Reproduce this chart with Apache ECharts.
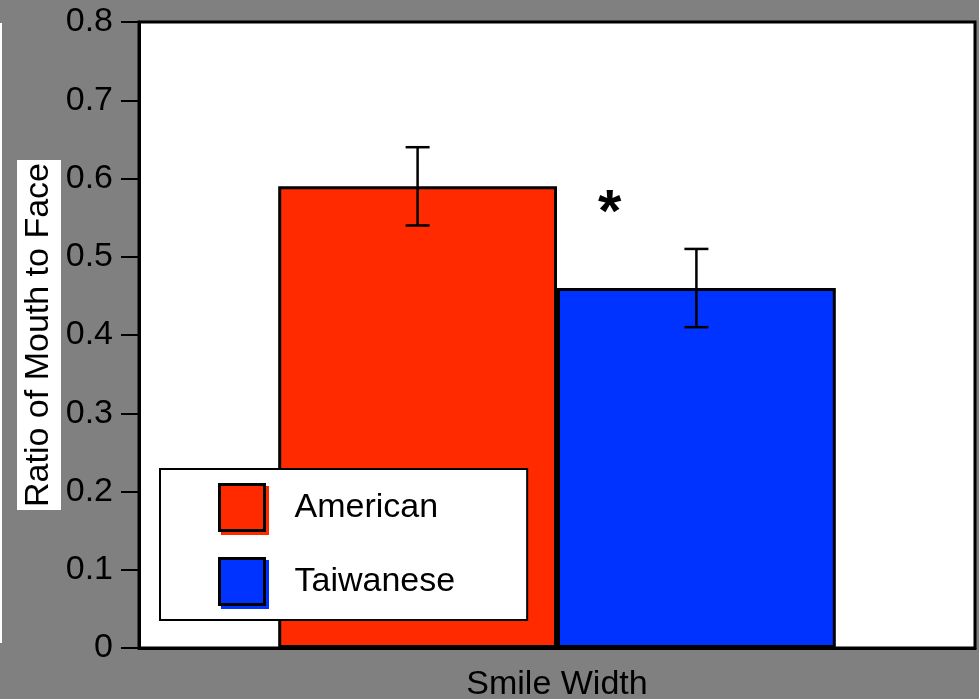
<!DOCTYPE html>
<html>
<head>
<meta charset="utf-8">
<script src="https://cdn.jsdelivr.net/npm/echarts@6/dist/echarts.min.js"></script>
<style>
  html, body { margin: 0; padding: 0; background: #808080; }
  #chart { width: 979px; height: 699px; }
</style>
</head>
<body>
<div id="chart"></div>
<script>
// Mouth-to-face width ratio by group, with error bars
const categories = ['Smile Width'];
const groups = ['American', 'Taiwanese'];
const means = [0.59, 0.46];
const errLow = [0.54, 0.41];
const errHigh = [0.64, 0.51];
const colors = ['#ff2a00', '#0033ff'];
const yTicks = { min: 0, max: 0.8, interval: 0.1 };

const FONT = 'Liberation Sans, Arial, sans-serif';
const FS = 34;
const BAR_FRACTION = 0.3335; // each bar's share of the category band

const chart = echarts.init(document.getElementById('chart'), null, { renderer: 'canvas' });

const barSeries = groups.map((g, i) => ({
  name: g,
  type: 'bar',
  data: [means[i]],
  barWidth: (BAR_FRACTION * 100) + '%',
  barGap: '0%',
  itemStyle: { color: colors[i], borderColor: '#000', borderWidth: 3 },
  z: 2
}));

// error bars: one whisker per group, centred on its bar
const errData = groups.map((g, i) => [0, errLow[i], errHigh[i], i]);
const errSeries = {
  type: 'custom',
  name: 'error',
  data: errData,
  z: 5,
  renderItem: function (params, api) {
    const band = api.size([1, 0])[0];
    const barW = band * BAR_FRACTION;
    const idx = api.value(3);
    const offset = (idx === 0 ? -0.5 : 0.5) * barW;
    const lo = api.coord([api.value(0), api.value(1)]);
    const hi = api.coord([api.value(0), api.value(2)]);
    const x = lo[0] + offset;
    const cap = 12;
    const style = { stroke: '#000', lineWidth: 2.5, fill: null };
    return {
      type: 'group',
      children: [
        { type: 'line', shape: { x1: x, y1: hi[1], x2: x, y2: lo[1] }, style: style },
        { type: 'line', shape: { x1: x - cap, y1: hi[1], x2: x + cap, y2: hi[1] }, style: style },
        { type: 'line', shape: { x1: x - cap, y1: lo[1], x2: x + cap, y2: lo[1] }, style: style }
      ]
    };
  },
  silent: true
};

chart.setOption({
  backgroundColor: '#808080',
  animation: false,
  textStyle: { fontFamily: FONT },
  grid: {
    left: 139, right: 4, top: 22, bottom: 51,
    containLabel: false,
    outerBoundsMode: 'none',
    show: true, backgroundColor: '#ffffff',
    borderColor: '#000', borderWidth: 3
  },
  legend: {
    orient: 'vertical',
    left: 160, top: 469,
    padding: [14, 72, 14, 58],
    itemWidth: 45, itemHeight: 46, itemGap: 25,
    backgroundColor: '#ffffff',
    borderColor: '#000', borderWidth: 2,
    icon: 'rect',
    data: groups.map((g, i) => ({
      name: g,
      itemStyle: {
        color: colors[i], borderColor: '#000', borderWidth: 3,
        shadowColor: colors[i], shadowBlur: 0, shadowOffsetX: 3, shadowOffsetY: 3
      }
    })),
    textStyle: { fontSize: FS, color: '#000', fontFamily: FONT, padding: [3, 0, 0, 25] }
  },
  xAxis: {
    type: 'category',
    data: categories,
    axisLine: { lineStyle: { color: '#000', width: 3 } },
    axisTick: { show: false },
    axisLabel: { fontSize: FS, color: '#000', margin: 20, fontFamily: FONT },
    splitLine: { show: false }
  },
  yAxis: {
    type: 'value',
    min: yTicks.min, max: yTicks.max, interval: yTicks.interval,
    name: 'Ratio of Mouth to Face',
    nameLocation: 'middle',
    nameRotate: 90,
    nameGap: 78,
    nameMoveOverlap: false,
    nameTextStyle: {
      fontSize: FS, color: '#000', fontFamily: FONT,
      backgroundColor: '#ffffff', padding: [5, 3, 5, 3]
    },
    axisLine: { show: true, lineStyle: { color: '#000', width: 3 } },
    axisTick: { show: true, length: 18, lineStyle: { color: '#000', width: 2 } },
    axisLabel: { fontSize: FS, color: '#000', margin: 26, fontFamily: FONT },
    splitLine: { show: false }
  },
  graphic: [
    { type: 'rect', left: 0, top: 23, shape: { width: 2, height: 620 }, style: { fill: '#ffffff' }, silent: true },
    {
      type: 'text', left: 598, top: 184, z: 10,
      style: { text: '*', fill: '#000', font: 'bold 60px ' + FONT }
    }
  ],
  series: barSeries.concat([errSeries])
});
</script>
</body>
</html>
